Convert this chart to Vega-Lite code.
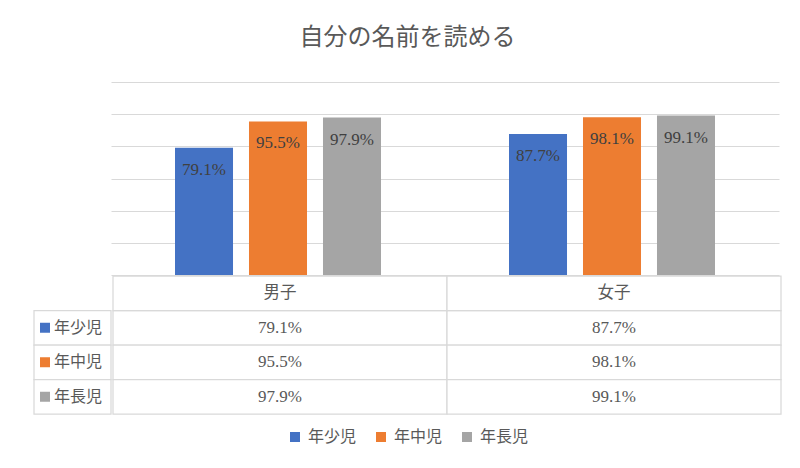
{
  "$schema": "https://vega.github.io/schema/vega-lite/v6.json",
  "padding": {"left": 33, "top": 26, "right": 20, "bottom": 10},
  "background": "white",
  "title": {"text": "自分の名前を読める", "fontSize": 24, "fontWeight": "normal", "color": "#595959", "anchor": "middle", "offset": 32},
  "datasets": {
    "main": [
      {"性別": "男子", "学年": "年少児", "値": 0.791},
      {"性別": "男子", "学年": "年中児", "値": 0.955},
      {"性別": "男子", "学年": "年長児", "値": 0.979},
      {"性別": "女子", "学年": "年少児", "値": 0.877},
      {"性別": "女子", "学年": "年中児", "値": 0.981},
      {"性別": "女子", "学年": "年長児", "値": 0.991}
    ],
    "cols": [{"性別": "男子"}, {"性別": "女子"}]
  },
  "spacing": 0,
  "vconcat": [
    {
      "spacing": 0,
      "hconcat": [
        {
          "width": 77,
          "height": 193,
          "data": {"name": "cols"},
          "mark": {"type": "text", "text": ""},
          "encoding": {}
        },
        {
          "width": 668,
          "height": 193,
          "data": {"name": "main"},
          "encoding": {
            "x": {"field": "性別", "type": "nominal", "axis": null, "scale": {"domain": ["男子", "女子"], "paddingInner": 0, "paddingOuter": 0}},
            "xOffset": {"field": "学年", "type": "nominal", "scale": {"domain": ["年少児", "年中児", "年長児"], "paddingInner": 0.216, "paddingOuter": 0.865}},
            "y": {"field": "値", "type": "quantitative", "scale": {"domain": [0, 1.2]},
              "axis": {"title": null, "labels": false, "ticks": false, "domain": false, "grid": true, "gridColor": "#d9d9d9", "gridWidth": 1.2, "values": [0, 0.2, 0.4, 0.6, 0.8, 1.0, 1.2], "minExtent": 0, "maxExtent": 0}}
          },
          "layer": [
            {
              "mark": {"type": "bar"},
              "encoding": {
                "color": {"field": "学年", "type": "nominal", "title": null,
                  "scale": {"domain": ["年少児", "年中児", "年長児"], "range": ["#4472C4", "#ED7D31", "#A5A5A5"]}}
              }
            },
            {
              "mark": {"type": "text", "baseline": "middle", "dy": 22, "fontSize": 17, "color": "#404040"},
              "encoding": {"text": {"field": "値", "type": "quantitative", "format": ".1%"}}
            }
          ]
        }
      ]
    },
    {
      "spacing": 0,
      "hconcat": [
        {
          "width": 77,
          "height": 138,
          "data": {"name": "main"},
          "transform": [{"filter": {"field": "性別", "equal": "男子"}}],
          "encoding": {
            "y": {"field": "学年", "type": "nominal", "axis": null, "scale": {"domain": ["列", "年少児", "年中児", "年長児"], "paddingInner": 0, "paddingOuter": 0}}
          },
          "layer": [
            {"mark": {"type": "rect", "fill": "white", "stroke": "#d9d9d9", "strokeWidth": 1.25}},
            {
              "mark": {"type": "square", "size": 100, "opacity": 1, "filled": true, "xOffset": -27.5},
              "encoding": {"color": {"field": "学年", "type": "nominal", "title": null,
                "scale": {"domain": ["年少児", "年中児", "年長児"], "range": ["#4472C4", "#ED7D31", "#A5A5A5"]}}}
            },
            {
              "mark": {"type": "text", "align": "left", "dx": -18.5, "fontSize": 16, "color": "#595959"},
              "encoding": {"text": {"field": "学年"}}
            }
          ]
        },
        {
          "width": 668,
          "height": 138,
          "encoding": {
            "x": {"field": "性別", "type": "nominal", "axis": null, "scale": {"domain": ["男子", "女子"], "paddingInner": 0, "paddingOuter": 0}},
            "y": {"field": "学年", "type": "nominal", "axis": null, "scale": {"domain": ["列", "年少児", "年中児", "年長児"], "paddingInner": 0, "paddingOuter": 0}}
          },
          "layer": [
            {"data": {"name": "main"}, "mark": {"type": "rect", "fill": "white", "stroke": "#d9d9d9", "strokeWidth": 1.25}},
            {"data": {"name": "main"}, "mark": {"type": "text", "fontSize": 17, "color": "#595959"},
              "encoding": {"text": {"field": "値", "type": "quantitative", "format": ".1%"}}},
            {"data": {"name": "cols"}, "mark": {"type": "rect", "fill": "white", "stroke": "#d9d9d9", "strokeWidth": 1.25},
              "encoding": {"y": {"datum": "列"}}},
            {"data": {"name": "cols"}, "mark": {"type": "text", "fontSize": 16.5, "color": "#595959"},
              "encoding": {"y": {"datum": "列"}, "text": {"field": "性別"}}}
          ]
        }
      ]
    }
  ],
  "config": {
    "font": "Liberation Serif, Noto Sans CJK JP",
    "view": {"stroke": null},
    "legend": {"orient": "bottom", "direction": "horizontal", "symbolType": "square", "symbolSize": 100, "symbolStrokeWidth": 0, "labelFontSize": 16, "labelColor": "#595959", "columnPadding": 16, "labelOffset": 5, "offset": 14, "layout": {"bottom": {"anchor": "middle"}}}
  }
}
